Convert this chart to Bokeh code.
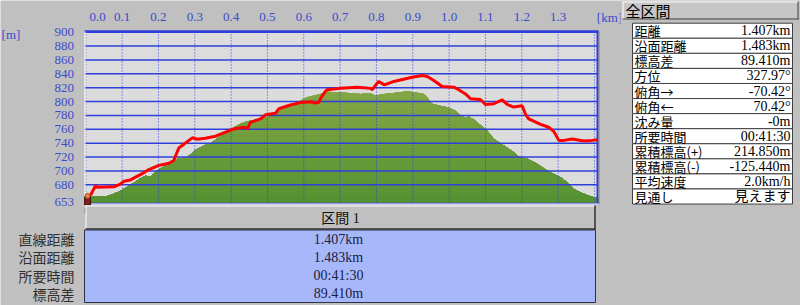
import numpy as np
from bokeh.plotting import figure
from bokeh.models import Range1d
from bokeh.core.properties import value
from bokeh.embed import file_html
from bokeh.resources import INLINE

# ---------------- data ----------------
route_km = [0.005, 0.027, 0.030, 0.077, 0.095, 0.105, 0.123, 0.137, 0.155, 0.169,
            0.201, 0.229, 0.242, 0.256, 0.293, 0.307, 0.329, 0.357, 0.385, 0.403,
            0.435, 0.445, 0.453, 0.481, 0.495, 0.522, 0.531, 0.563, 0.591, 0.623,
            0.628, 0.641, 0.648, 0.660, 0.664, 0.701, 0.747, 0.784, 0.788, 0.806,
            0.822, 0.848, 0.898, 0.926, 0.940, 0.958, 0.981, 1.013, 1.022, 1.045,
            1.059, 1.086, 1.100, 1.123, 1.146, 1.160, 1.178, 1.201, 1.210, 1.219,
            1.252, 1.274, 1.288, 1.302, 1.316, 1.339, 1.371, 1.394, 1.408]
route_m = [657, 679, 676.5, 677, 681, 685, 687, 691, 696, 700.6,
           708, 711, 715, 733, 747.7, 745.7, 747, 750, 756, 760,
           763, 761, 770, 775, 781, 783, 789.6, 795, 798.6, 799.6,
           798, 798.6, 806, 815, 817, 819, 820.7, 819, 817, 829,
           824, 829, 835, 837.6, 836, 830.4, 821.7, 820.7, 818.4, 811,
           804, 803, 795.8, 796.8, 802.5, 795.8, 792, 794, 782, 775,
           767, 763, 757, 744, 744, 746, 743, 744, 745]

terrain_km = [0.000, 0.010, 0.030, 0.055, 0.077, 0.095, 0.123, 0.155, 0.165, 0.178,
              0.196, 0.233, 0.252, 0.279, 0.302, 0.316, 0.334, 0.343, 0.361, 0.398,
              0.426, 0.440, 0.499, 0.554, 0.582, 0.609, 0.646, 0.664, 0.688, 0.715,
              0.756, 0.784, 0.797, 0.821, 0.866, 0.884, 0.921, 0.931, 0.940, 0.953,
              0.976, 0.995, 1.018, 1.031, 1.045, 1.054, 1.073, 1.077, 1.105, 1.123,
              1.151, 1.178, 1.192, 1.215, 1.243, 1.270, 1.307, 1.325, 1.343, 1.371,
              1.398, 1.411]
terrain_m = [663, 662, 663, 663, 667, 671, 680, 691, 693, 691,
             700.6, 712.6, 717.5, 720, 730, 734, 739, 739, 747, 760,
             768, 771, 777.5, 794, 799, 806.3, 811, 814, 813.5, 812.6,
             811, 812, 808.7, 811, 813.5, 815, 812, 811, 806, 796.7,
             794, 791.8, 787, 780, 776.6, 778.5, 772.7, 770, 758, 746.3,
             736.6, 727, 720.8, 717.5, 710, 700.6, 691, 683.7, 674.2, 667,
             662, 661]

x_tick_labels = ["0.0", "0.1", "0.2", "0.3", "0.4", "0.5", "0.6",
                 "0.7", "0.8", "0.9", "1.0", "1.1", "1.2", "1.3"]
x_grid_km = [0.0, 0.1, 0.2, 0.3, 0.4, 0.5, 0.6, 0.7, 0.8, 0.9, 1.0, 1.1, 1.2, 1.3, 1.4]
y_ticks = [653, 680, 700, 720, 740, 760, 780, 800, 820, 840, 860, 880, 900]

section_title = "区間 1"
section_labels = ["直線距離", "沿面距離", "所要時間", "標高差"]
section_values = ["1.407km", "1.483km", "00:41:30", "89.410m"]

panel_title = "全区間"
panel_labels = ["距離", "沿面距離", "標高差", "方位", "俯角→", "俯角←", "沈み量",
                "所要時間", "累積標高(+)", "累積標高(-)", "平均速度", "見通し"]
panel_values = ["1.407km", "1.483km", "89.410m", "327.97°", "-70.42°", "70.42°", "-0m",
                "00:41:30", "214.850m", "-125.440m", "2.0km/h", "見えます"]

# ---------------- styles / geometry ----------------
BG = "#c0c0c0"
PLOT_BG = "#dcdcdc"
GRID_BLUE = "#2e3fdc"
TICK_BLUE = "#3a4ccc"
SERIF = "Liberation Serif"
JP = "Noto Sans CJK JP"
MIX = "Liberation Serif, Noto Sans CJK JP"

W, H = 800, 305
PX_L, PX_R, PX_T, PX_B = 84, 598, 31, 203      # plot area in pixels
KM0, KM1 = -0.0036, 1.4112                      # data extent of plot area
M0, M1 = 653, 901
sx = (PX_R - PX_L) / (KM1 - KM0)
sy = (PX_B - PX_T) / (M1 - M0)

p = figure(width=W, height=H, output_backend="svg", toolbar_location=None,
           x_range=Range1d(KM0 - PX_L / sx, KM1 + (W - PX_R) / sx),
           y_range=Range1d(M0 - (H - PX_B) / sy, M1 + PX_T / sy),
           x_axis_location=None, y_axis_location=None, min_border=0)
p.extra_x_ranges = {"px": Range1d(0, W)}
p.extra_y_ranges = {"px": Range1d(H, 0)}
p.background_fill_color = BG
p.border_fill_color = BG
p.outline_line_color = None
p.grid.visible = False

PX = dict(x_range_name="px", y_range_name="px")


def txt(x, y, text, font, size, color, align, px=True, **kw):
    extra = PX if px else {}
    p.text(x=x, y=y, text=text, text_font=value(font), text_font_size=value(size),
           text_color=color, text_align=align, text_baseline="middle", **extra, **kw)


# plot area background
p.quad(left=PX_L, right=PX_R, top=PX_T, bottom=PX_B, fill_color=PLOT_BG, line_color=None, **PX)

# terrain with a vertical green gradient
t_km = np.array(terrain_km)
t_m = np.array(terrain_m)
c_lo = np.array([84, 145, 49])
c_hi = np.array([139, 170, 72])
for top in np.arange(840, 653, -3):
    f = (top - 653) / (840 - 653)
    c = (c_lo + (c_hi - c_lo) * f).round().astype(int)
    p.varea(x=t_km, y1=M0, y2=np.minimum(t_m, top), fill_color="#%02x%02x%02x" % tuple(c))

# grid lines (over the terrain)
p.segment(x0=KM0, y0=y_ticks, x1=KM1, y1=y_ticks, line_color=GRID_BLUE, line_width=1.5)
p.segment(x0=x_grid_km, y0=M0, x1=x_grid_km, y1=M1, line_color=GRID_BLUE,
          line_width=1, line_dash="1 2")

# frame
p.segment(x0=[PX_L, PX_L + 0.5, PX_R - 1], y0=[PX_T, PX_T, PX_T], x1=[PX_R, PX_L + 0.5, PX_R - 1],
          y1=[PX_T, PX_B, PX_B], line_color=[GRID_BLUE, "#ffffff", GRID_BLUE],
          line_width=[2.5, 1, 2], **PX)
p.segment(x0=PX_R + 0.5, y0=PX_T, x1=PX_R + 0.5, y1=PX_B + 1, line_color="#808080", line_width=1, **PX)
p.segment(x0=PX_L, y0=PX_B + 0.5, x1=PX_R, y1=PX_B + 0.5, line_color="#ffffff", line_width=1, **PX)

# route profile
p.line(route_km, route_m, line_color="#ff0000", line_width=3)

# little hiker at the start point
p.rect(x=route_km[0], y=657, width=6, height=8, width_units="screen",
       height_units="screen", fill_color="#8a1a1a", line_color="#3a1010")
p.scatter(x=[route_km[0]], y=[664], size=5, fill_color="#e09040", line_color="#a05020")
p.rect(x=route_km[0], y=M0 - 7 / sy, width=6, height=6, width_units="screen",
       height_units="screen", fill_color="#8a7050", line_color=None)

# tick labels
x_ticks = [float(t) for t in x_tick_labels]
x_lab_pos = [x_ticks[0] + 11.7 / sx] + x_ticks[1:]
txt(x_lab_pos, [M1 + (PX_T - 16.5) / sy] * len(x_ticks), x_tick_labels,
    SERIF, "13px", TICK_BLUE, "center", px=False)
txt([KM0 - 10.5 / sx] * len(y_ticks), [v + (1.2 if v == M0 else 0) / sy for v in y_ticks],
    [str(v) for v in y_ticks], SERIF, "13px", TICK_BLUE, "right", px=False)
txt([10.5], [33.5], ["[m]"], SERIF, "13px", TICK_BLUE, "center")
txt([609], [16.5], ["[km]"], SERIF, "13px", TICK_BLUE, "center")

# ---------------- bottom section table ----------------
p.quad(left=85, right=595, top=205, bottom=229, fill_color=BG, line_color=None, **PX)
p.segment(x0=[85, 85.5], y0=[205.5, 205], x1=[595, 85.5], y1=[205.5, 229],
          line_color="#ffffff", line_width=1, **PX)
p.segment(x0=[85, 594.5], y0=[228.5, 205], x1=[595, 594.5], y1=[228.5, 229],
          line_color="#303030", line_width=1.5, **PX)
p.quad(left=84, right=595, top=229.5, bottom=302, fill_color="#a6b8fa", line_color="#303048",
       line_width=1, **PX)
txt([340], [217.5], [section_title], MIX, "14px", "#101010", "center")
row_y = [238.5, 256.8, 275.0, 293.0]
txt([74] * 4, row_y, section_labels, JP, "14px", "#303030", "right")
txt([338] * 4, row_y, section_values, SERIF, "14px", "#202040", "center")

# ---------------- right info panel ----------------
p.quad(left=620, right=W, top=0, bottom=H, fill_color=BG, line_color=None, **PX)
p.quad(left=622, right=798, top=1, bottom=19, fill_color="#c6c6c6", line_color=None, **PX)
p.segment(x0=[622, 622.5], y0=[1.5, 1], x1=[798, 622.5], y1=[1.5, 19],
          line_color="#ffffff", line_width=1, **PX)
p.segment(x0=[622, 797.5], y0=[18.5, 1], x1=[798, 797.5], y1=[18.5, 19],
          line_color="#404040", line_width=1, **PX)
txt([625], [10], [panel_title], JP, "15px", "#000000", "left")

n = len(panel_labels)
row_h = 15.07
tops = [22.7 + i * row_h for i in range(n)]
bots = [t + row_h for t in tops]
mids = [t + row_h / 2 for t in tops]
p.quad(left=[632] * n, right=[792] * n, top=tops, bottom=bots,
       fill_color="#ffffff", line_color="#404040", line_width=1, **PX)
txt([634] * n, mids, panel_labels, JP, "13px", "#000000", "left")
txt([790] * n, mids, panel_values, MIX, "14px", "#000000", "right")

open("out.html", "w").write(file_html(p, INLINE))
